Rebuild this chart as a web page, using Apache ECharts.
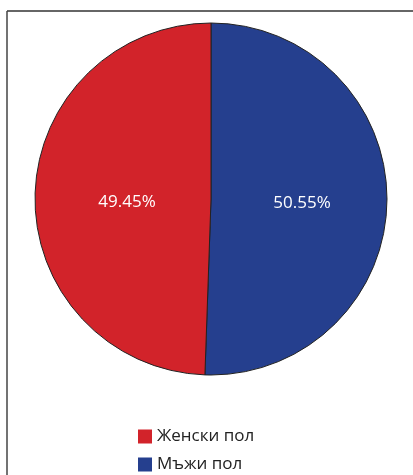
<!DOCTYPE html>
<html><head><meta charset="utf-8">
<script src="https://cdn.jsdelivr.net/npm/echarts@6/dist/echarts.min.js"></script>
<style>html,body{margin:0;padding:0;background:#fff}#c{width:413px;height:475px}</style>
</head><body><div id="c"></div>
<script>
const categories = ['Мъжи пол', 'Женски пол'];
const values = [50.55, 49.45];
const colors = ['#253F8E', '#D2232A'];
const legendOrder = ['Женски пол', 'Мъжи пол'];

const labelShifts = [[0, 3], [7, 5]];

const chart = echarts.init(document.getElementById('c'), null, {renderer: 'canvas'});
chart.setOption({
  animation: false,
  backgroundColor: '#fff',
  graphic: [
    {type: 'line', shape: {x1: 7, y1: 11, x2: 413, y2: 11}, style: {stroke: '#666', lineWidth: 2}},
    {type: 'line', shape: {x1: 7, y1: 11, x2: 7, y2: 475}, style: {stroke: '#444', lineWidth: 1.5}}
  ],
  legend: {
    orient: 'vertical',
    left: 138, top: 428,
    padding: 0,
    itemWidth: 14, itemHeight: 14, itemGap: 11,
    icon: 'rect',
    itemStyle: {borderWidth: 0},
    data: legendOrder,
    textStyle: {fontFamily: 'Open Sans', fontSize: 17, color: '#222'},
    selectedMode: false
  },
  series: [{
    type: 'pie',
    center: [211, 199],
    radius: 176,
    startAngle: 90,
    clockwise: true,
    data: categories.map((n, i) => ({name: n, value: values[i], itemStyle: {color: colors[i]}, label: {offset: labelShifts[i]}})),
    itemStyle: {borderColor: '#222', borderWidth: 1},
    label: {
      show: true, position: 'inside',
      formatter: p => p.value.toFixed(2) + '%',
      color: '#fff', fontFamily: 'Open Sans', fontSize: 17
    },
    labelLine: {show: false},
    emphasis: {disabled: true}
  }]
});
</script></body></html>
